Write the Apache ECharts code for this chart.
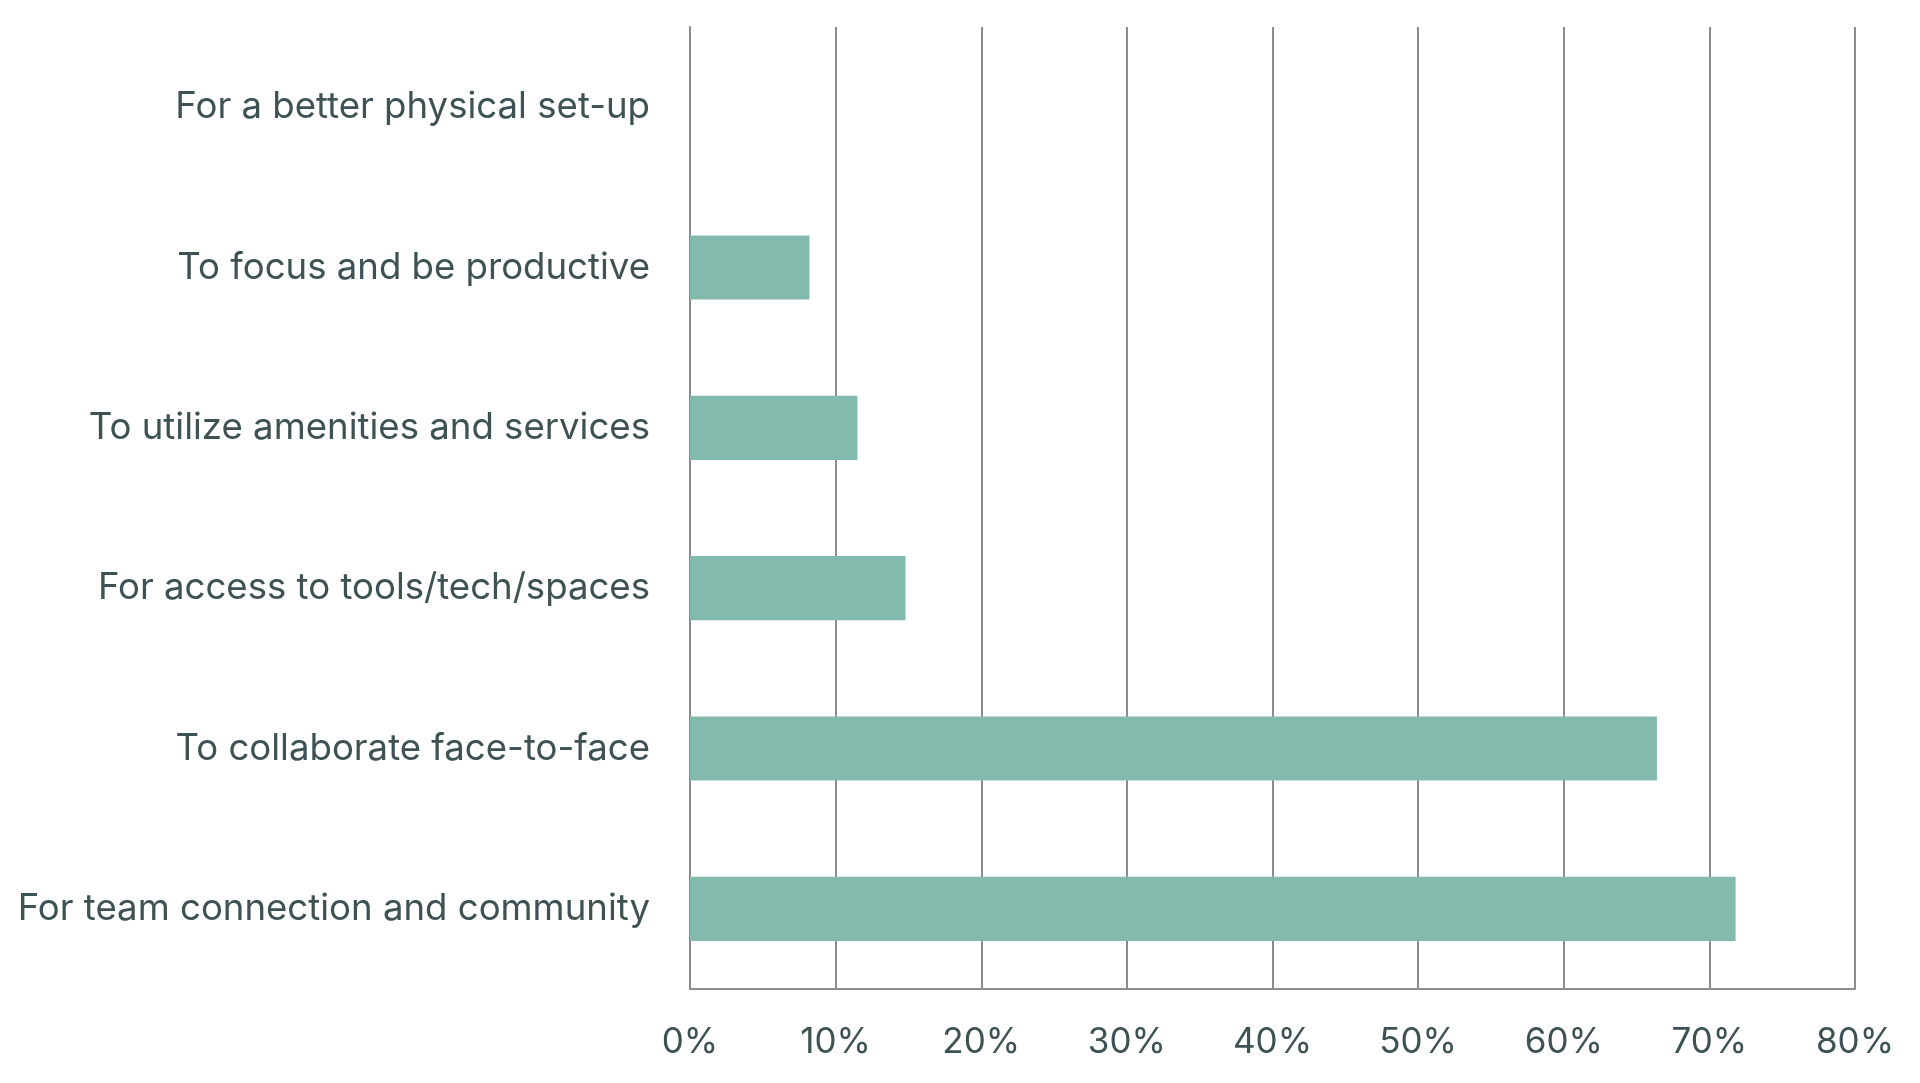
<!DOCTYPE html>
<html>
<head>
<meta charset="utf-8">
<script src="https://cdn.jsdelivr.net/npm/echarts@6/dist/echarts.min.js"></script>
<style>
  html, body { margin: 0; padding: 0; background: #fff; }
  #main { width: 1920px; height: 1083px; }
</style>
</head>
<body>
<div id="main"></div>
<script>
// bottom to top, as ECharts category axis draws them
const categories = [
  'For team connection and community',
  'To collaborate face-to-face',
  'For access to tools/tech/spaces',
  'To utilize amenities and services',
  'To focus and be productive',
  'For a better physical set-up'
]
const values = [71.8, 66.4, 14.8, 11.5, 8.2, 0]
const tickLabels = ['0%', '10%', '20%', '30%', '40%', '50%', '60%', '70%', '80%']

const textColor = '#3f5253'
const lineColor = '#8c8c8c'

const chart = echarts.init(document.getElementById('main'))
chart.setOption({
  animation: false,
  grid: {
    left: 690,
    right: 65,
    top: 27,
    bottom: 94,
    containLabel: false
  },
  xAxis: {
    type: 'value',
    min: 0,
    max: 80,
    interval: 10,
    axisLine: { show: true, lineStyle: { color: lineColor, width: 2 } },
    axisTick: { show: false },
    splitLine: { show: true, lineStyle: { color: lineColor, width: 2 } },
    axisLabel: {
      color: textColor,
      fontFamily: 'Inter',
      fontSize: 35,
      margin: 36,
      formatter: function (v) { return tickLabels[Math.round(v / 10)] }
    }
  },
  yAxis: {
    type: 'category',
    data: categories,
    axisLine: { show: true, lineStyle: { color: lineColor, width: 2 } },
    axisTick: { show: false },
    axisLabel: {
      color: textColor,
      fontFamily: 'Inter',
      fontSize: 36.6,
      margin: 40
    }
  },
  series: [
    {
      type: 'bar',
      data: values,
      barWidth: '40%',
      itemStyle: { color: '#82bbad' }
    }
  ]
})
</script>
</body>
</html>
